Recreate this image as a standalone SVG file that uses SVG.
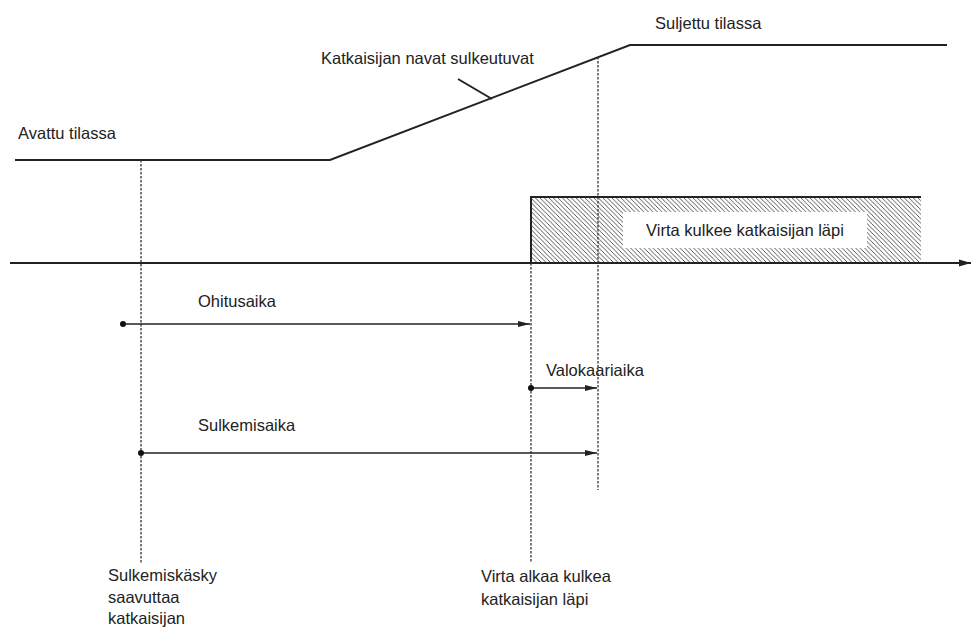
<svg xmlns="http://www.w3.org/2000/svg" width="972" height="630" viewBox="0 0 972 630">
<style>
text{font-family:"Liberation Sans",Arial,sans-serif;font-size:16.5px;fill:#222}
.ln{stroke:#222;stroke-width:2;fill:none}
.dash{stroke:#333;stroke-width:1.3;stroke-dasharray:2.5,1.5;fill:none}
.arr{stroke:#222;stroke-width:1.6;fill:none;marker-end:url(#ah);marker-start:url(#dot)}
</style>
<defs>
<marker id="ah" viewBox="0 0 12 8" refX="12" refY="4" markerWidth="12" markerHeight="8" markerUnits="userSpaceOnUse" orient="auto"><path d="M0,1 L12,4 L0,7 Z" fill="#222"/></marker>
<marker id="dot" viewBox="0 0 6 6" refX="3" refY="3" markerWidth="6" markerHeight="6" markerUnits="userSpaceOnUse"><circle cx="3" cy="3" r="3" fill="#111"/></marker>
<marker id="axh" viewBox="0 0 12 8" refX="12" refY="4" markerWidth="12" markerHeight="8" markerUnits="userSpaceOnUse" orient="auto"><path d="M0,0.5 L12,4 L0,7.5 Z" fill="#222"/></marker>
<pattern id="hatch" patternUnits="userSpaceOnUse" width="4.5" height="4.5"><path d="M0,0 L4.5,4.5 M-1,3.5 L1,5.5 M3.5,-1 L5.5,1" stroke="#444" stroke-width="0.9"/></pattern>
</defs>
<g id="state-curve">
<polyline class="ln" points="15,160 330,160 630,45 947,45"/>
<line class="ln" x1="458" y1="79" x2="492" y2="99" stroke-width="1.6"/>
</g>
<g id="current-block">
<rect x="531" y="197" width="390" height="66" fill="url(#hatch)"/>
<polyline points="531,263 531,197 921,197" fill="none" stroke="#222" stroke-width="2"/>
<rect x="623" y="212" width="244" height="36" fill="#fff"/>
<text x="745" y="236" text-anchor="middle">Virta kulkee katkaisijan läpi</text>
</g>
<g id="axis">
<line x1="10" y1="263" x2="971" y2="263" stroke="#222" stroke-width="1.8" marker-end="url(#axh)"/>
</g>
<g id="guides">
<line class="dash" x1="141" y1="160" x2="141" y2="563"/>
<line class="dash" x1="531" y1="263" x2="531" y2="563"/>
<line class="dash" x1="598" y1="57" x2="598" y2="490"/>
</g>
<g id="connectors">
<line class="arr" x1="123" y1="324" x2="530" y2="324"/>
<line class="arr" x1="531" y1="388" x2="597" y2="388"/>
<line class="arr" x1="141" y1="453" x2="597" y2="453"/>
</g>
<g id="labels">
<text x="655" y="29">Suljettu tilassa</text>
<text x="321" y="64">Katkaisijan navat sulkeutuvat</text>
<text x="18" y="139">Avattu tilassa</text>
<text x="198" y="307">Ohitusaika</text>
<text x="546" y="376">Valokaariaika</text>
<text x="198" y="431">Sulkemisaika</text>
<text x="108" y="581">Sulkemiskäsky</text>
<text x="108" y="603">saavuttaa</text>
<text x="108" y="624">katkaisijan</text>
<text x="481" y="582">Virta alkaa kulkea</text>
<text x="481" y="605">katkaisijan läpi</text>
</g>
</svg>
